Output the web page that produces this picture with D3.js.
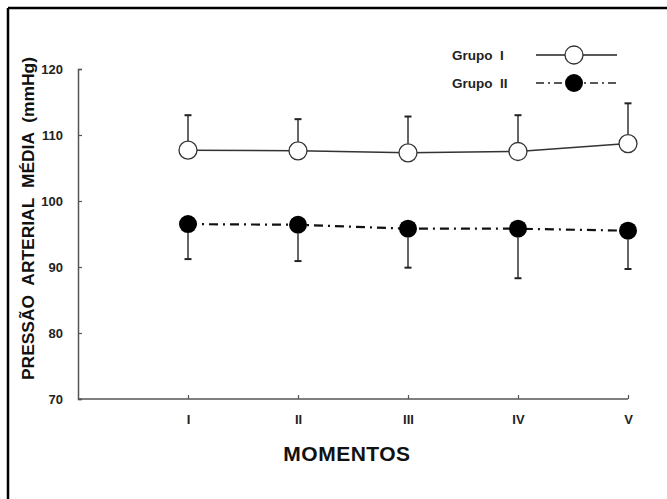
<!DOCTYPE html>
<html><head><meta charset="utf-8">
<script src="https://cdn.jsdelivr.net/npm/d3@7"></script>
<style>body{margin:0;background:#fff}svg{display:block}text{font-family:"Liberation Sans",Arial,sans-serif}</style>
</head><body>
<svg id="c" width="667" height="499"></svg>
<script>
const momentos = ["I","II","III","IV","V"];
const grupo1Media = [107.7, 107.6, 107.3, 107.5, 108.7];
const grupo1Sup   = [113.0, 112.4, 112.8, 113.0, 114.8];
const grupo2Media = [96.5, 96.4, 95.8, 95.8, 95.5];
const grupo2Inf   = [91.2, 90.9, 89.9, 88.3, 89.7];
const yTicks = [70, 80, 90, 100, 110, 120];
const legendLabels = ["Grupo  I", "Grupo  II"];

const svg = d3.select("#c");
// frame (left & top visible)
svg.append("line").attr("x1",8).attr("x2",8).attr("y1",8).attr("y2",499).attr("stroke","#000").attr("stroke-width",2.5);
svg.append("line").attr("x1",8).attr("x2",667).attr("y1",8).attr("y2",8).attr("stroke","#000").attr("stroke-width",2.5);

const x = d3.scaleLinear().domain([0,5]).range([78,628]);
const y = d3.scaleLinear().domain([70,120]).range([399,69]);

const g = svg.append("g");
// y axis
const ya = d3.axisLeft(y).tickValues(yTicks).tickSize(-4).tickPadding(14);
const yg = g.append("g").attr("transform","translate(78,0)").call(ya);
yg.select(".domain").attr("stroke","#555").attr("stroke-width",1.5);
yg.selectAll(".tick line").attr("stroke","#555").attr("stroke-width",1.2);
yg.selectAll(".tick text").attr("font-size",13).attr("font-weight","bold").attr("fill","#222").attr("x",-15);

// x axis
const xa = d3.axisBottom(x).tickValues([1,2,3,4,5]).tickFormat((d)=>momentos[d-1]).tickSize(-4).tickPadding(16);
const xg = g.append("g").attr("transform","translate(0,399)").call(xa);
xg.select(".domain").attr("stroke","#555").attr("stroke-width",1.5).attr("d","M78,0H628");
xg.selectAll(".tick line").attr("stroke","#555").attr("stroke-width",1.2);
xg.selectAll(".tick text").attr("font-size",13).attr("font-weight","bold").attr("fill","#222").attr("dy","0.71em").attr("y",16);

// titles
svg.append("text").attr("x",347).attr("y",461).attr("text-anchor","middle").attr("font-size",21).attr("font-weight","bold").attr("fill","#111").attr("letter-spacing",0.5).text("MOMENTOS");
svg.append("text").attr("transform","translate(34,218.5) rotate(-90)").attr("text-anchor","middle").attr("font-size",17).attr("font-weight","bold").attr("fill","#111")
  .attr("textLength",323).attr("lengthAdjust","spacingAndGlyphs").attr("word-spacing","5").text("PRESSÃO ARTERIAL MÉDIA (mmHg)");

const idx = d3.range(momentos.length);
const R = 9;
// error bars
idx.forEach(i=>{
  const cx = x(i+1);
  g.append("line").attr("x1",cx).attr("x2",cx).attr("y1",y(grupo1Media[i])-R).attr("y2",y(grupo1Sup[i])).attr("stroke","#333").attr("stroke-width",1.5);
  g.append("line").attr("x1",cx-3.5).attr("x2",cx+3.5).attr("y1",y(grupo1Sup[i])).attr("y2",y(grupo1Sup[i])).attr("stroke","#222").attr("stroke-width",2);
  g.append("line").attr("x1",cx).attr("x2",cx).attr("y1",y(grupo2Media[i])+R).attr("y2",y(grupo2Inf[i])).attr("stroke","#333").attr("stroke-width",1.5);
  g.append("line").attr("x1",cx-3.5).attr("x2",cx+3.5).attr("y1",y(grupo2Inf[i])).attr("y2",y(grupo2Inf[i])).attr("stroke","#222").attr("stroke-width",2);
});
const line = d3.line().x((d,i)=>x(i+1)).y(d=>y(d));
g.append("path").attr("d",line(grupo1Media)).attr("fill","none").attr("stroke","#333").attr("stroke-width",1.5);
g.append("path").attr("d",line(grupo2Media)).attr("fill","none").attr("stroke","#111").attr("stroke-width",2.2).attr("stroke-dasharray","9,5,2,5");
g.selectAll(".c1").data(grupo1Media).join("circle").attr("cx",(d,i)=>x(i+1)).attr("cy",d=>y(d)).attr("r",R).attr("fill","#fff").attr("stroke","#333").attr("stroke-width",1.3);
g.selectAll(".c2").data(grupo2Media).join("circle").attr("cx",(d,i)=>x(i+1)).attr("cy",d=>y(d)).attr("r",R).attr("fill","#000");

// legend
const lg = svg.append("g");
const ly = [55, 83];
[0,1].forEach(k=>{
  lg.append("text").attr("x",452).attr("y",ly[k]).attr("dy","0.35em").attr("font-size",13.5).attr("font-weight","bold").attr("fill","#222").attr("xml:space","preserve").text(legendLabels[k]);
});
lg.append("line").attr("x1",536).attr("x2",617).attr("y1",ly[0]).attr("y2",ly[0]).attr("stroke","#222").attr("stroke-width",1.5);
lg.append("circle").attr("cx",574).attr("cy",ly[0]).attr("r",R).attr("fill","#fff").attr("stroke","#333").attr("stroke-width",1.3);
lg.append("line").attr("x1",536).attr("x2",617).attr("y1",ly[1]).attr("y2",ly[1]).attr("stroke","#222").attr("stroke-width",1.5).attr("stroke-dasharray","8,4,2,4");
lg.append("circle").attr("cx",574).attr("cy",ly[1]).attr("r",R).attr("fill","#000");
</script>
</body></html>
